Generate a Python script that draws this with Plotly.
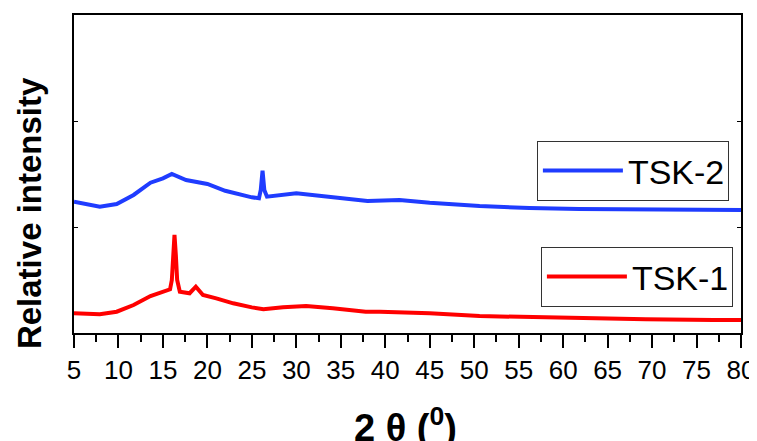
import plotly.graph_objects as go

# TSK-2 (blue)
tsk2_x = [5, 7.9, 9.8, 11.7, 13.6, 15, 16, 17.6, 20, 22, 25, 25.8, 26.0, 26.2, 26.4, 26.7,
          30, 32.7, 35, 38, 41.6, 45, 50.6, 56.2, 61.8, 69.3, 76.9, 80]
tsk2_y = [1.239, 1.192, 1.217, 1.302, 1.418, 1.459, 1.500, 1.443, 1.406, 1.342, 1.280, 1.271,
          1.349, 1.531, 1.349, 1.286, 1.318, 1.292, 1.271, 1.245, 1.255, 1.229, 1.198, 1.179,
          1.170, 1.167, 1.163, 1.160]

# TSK-1 (red)
tsk1_x = [5, 7.9, 9.8, 11.7, 13.6, 15, 15.8, 16.0, 16.15, 16.3, 16.45, 16.6, 16.9, 18, 18.7,
          19.5, 21, 22.9, 25, 26.3, 28.5, 31.1, 34.1, 37.8, 39.4, 45, 50.6, 56.2, 61.8, 69.3,
          76.9, 80]
tsk1_y = [0.186, 0.176, 0.201, 0.264, 0.349, 0.390, 0.412, 0.500, 0.736, 0.925, 0.736, 0.500,
          0.390, 0.375, 0.437, 0.358, 0.327, 0.280, 0.242, 0.224, 0.242, 0.255, 0.233, 0.201,
          0.201, 0.186, 0.160, 0.148, 0.139, 0.129, 0.123, 0.123]

x_ticks = list(range(5, 81, 5))
y_ticks = [1, 2]

FONT = "Liberation Sans, Arial, sans-serif"

fig = go.Figure()
fig.add_trace(go.Scatter(x=tsk1_x, y=tsk1_y, mode="lines", name="TSK-1",
                         line=dict(color="#ff0000", width=4), legend="legend2"))
fig.add_trace(go.Scatter(x=tsk2_x, y=tsk2_y, mode="lines", name="TSK-2",
                         line=dict(color="#1f3cff", width=4), legend="legend"))

legend_common = dict(bgcolor="white", bordercolor="#333333", borderwidth=1,
                     font=dict(family=FONT, size=34, color="black"),
                     xanchor="left", yanchor="top", itemwidth=80,
                     orientation="h", entrywidth=95, entrywidthmode="pixels")

fig.update_layout(
    width=749, height=433,
    margin=dict(l=66, r=16, t=7, b=108),
    paper_bgcolor="white", plot_bgcolor="white",
    font=dict(family=FONT, color="black"),
    showlegend=True,
    legend=dict(x=0.694, y=0.604, **legend_common),
    legend2=dict(x=0.700, y=0.271, **legend_common),
    xaxis=dict(range=[5, 80], tickvals=x_ticks, ticks="outside", ticklen=13, tickwidth=2,
               tickcolor="black", showline=True, linecolor="black", linewidth=2, mirror=True,
               showgrid=False, zeroline=False, automargin=False,
               tickfont=dict(size=26, family=FONT, color="black"),
               minor=dict(dtick=2.5, tick0=2.5, ticks="outside", ticklen=7, tickwidth=2,
                          tickcolor="black", showgrid=False)),
    yaxis=dict(range=[0, 3], tickvals=y_ticks, ticks="inside", ticklen=4, tickwidth=1,
               tickcolor="black", showticklabels=False, showline=True, linecolor="black",
               linewidth=2, mirror="ticks", showgrid=False, zeroline=False, automargin=False),
    annotations=[
        dict(text="<b>Relative intensity</b>", textangle=-90, xref="paper", yref="paper",
             x=-0.0675, y=0.377, xanchor="center", yanchor="middle", showarrow=False,
             font=dict(size=33, family=FONT, color="black")),
        dict(text="<b>2 θ (<sup>0</sup>)</b>", xref="paper", yref="paper",
             x=0.497, y=-0.208, xanchor="center", yanchor="top", showarrow=False,
             font=dict(size=38, family=FONT, color="black")),
    ],
)

fig.write_html("out.html")
